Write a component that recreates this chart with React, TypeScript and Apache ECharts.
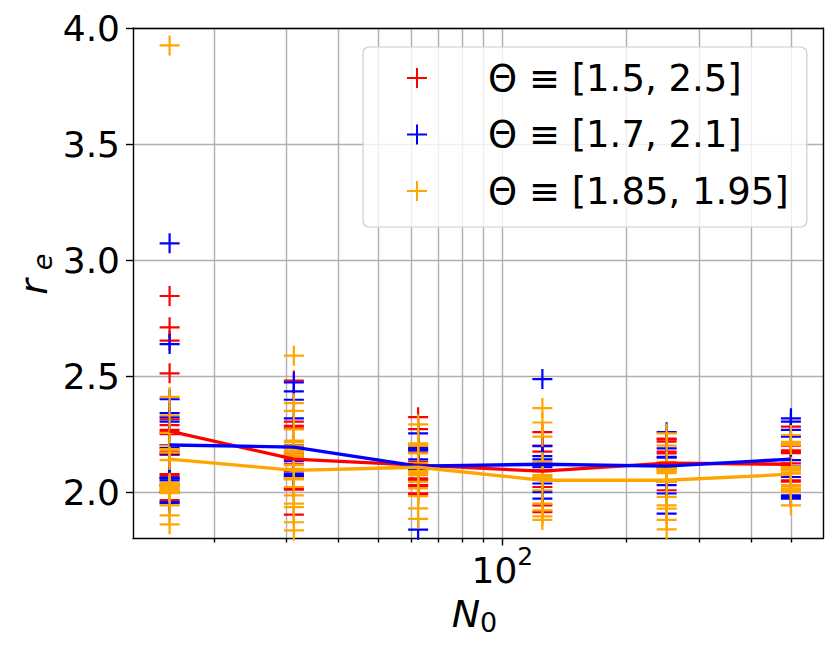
import React, { useEffect, useRef } from 'react';
import * as echarts from 'echarts';

const N0 = [15.625, 31.25, 62.5, 125, 250, 500];
const SERIES_NAMES = ['Θ ≡ [1.5, 2.5]', 'Θ ≡ [1.7, 2.1]', 'Θ ≡ [1.85, 1.95]'];
const COLORS = ['#ff0000', '#0000ff', '#ffa500'];

const redRuns = [
  [2.845, 2.71, 2.653, 2.512, 2.314, 2.289, 2.268, 2.258, 2.25, 2.175, 2.16, 2.077, 2.072, 2.06, 2.03, 2.0, 1.965],
  [2.481, 2.304, 2.285, 2.275, 2.2, 2.17, 2.15, 2.14, 2.12, 2.09, 2.06, 2.015, 2.01, 1.903],
  [2.323, 2.271, 2.2, 2.17, 2.13, 2.116, 2.1, 2.059, 2.052, 2.03, 2.025, 1.995, 1.99],
  [2.258, 2.2, 2.174, 2.12, 2.094, 2.09, 2.022, 1.943, 1.914],
  [2.23, 2.226, 2.217, 2.174, 2.167, 2.12, 2.1, 2.044, 2.008],
  [2.282, 2.2, 2.18, 2.175, 2.168, 2.124, 2.1, 2.051, 2.045],
];
const blueRuns = [
  [3.072, 2.638, 2.4, 2.34, 2.323, 2.304, 2.203, 2.19, 2.165, 2.064, 2.058, 2.05, 2.03, 2.0, 1.957, 1.952],
  [2.473, 2.434, 2.398, 2.318, 2.2, 2.19, 2.16, 2.133, 2.08, 2.075, 2.07, 2.065],
  [2.253, 2.19, 2.185, 2.18, 2.141, 2.12, 2.107, 2.1, 2.094, 1.838],
  [2.487, 2.198, 2.155, 2.141, 2.12, 2.115, 2.107, 2.037, 2.0, 1.972],
  [2.258, 2.188, 2.152, 2.148, 2.116, 2.11, 2.03, 1.994, 1.907],
  [2.318, 2.304, 2.268, 2.239, 2.138, 2.11, 2.065, 1.986, 1.979, 1.972],
];
const orangeRuns = [
  [3.925, 2.41, 2.33, 2.255, 2.2, 2.185, 2.17, 2.138, 2.04, 2.035, 2.03, 2.025, 2.02, 2.015, 2.01, 2.005, 2.0, 1.995, 1.943, 1.9, 1.861],
  [2.588, 2.383, 2.35, 2.27, 2.222, 2.215, 2.2, 2.19, 2.18, 2.17, 2.16, 2.15, 2.116, 2.1, 2.06, 2.055, 2.022, 1.986, 1.95, 1.935, 1.87, 1.835],
  [2.292, 2.21, 2.205, 2.2, 2.167, 2.125, 2.09, 2.086, 2.08, 2.073, 2.044, 2.016, 1.982, 1.93, 1.885],
  [2.362, 2.3, 2.239, 2.13, 2.125, 2.12, 2.073, 2.068, 2.06, 2.008, 1.95, 1.921, 1.895, 1.88],
  [2.253, 2.2, 2.13, 2.103, 2.098, 2.09, 2.086, 2.082, 2.044, 1.979, 1.943, 1.929, 1.88, 1.839],
  [2.246, 2.217, 2.21, 2.203, 2.109, 2.1, 2.095, 2.085, 2.08, 2.03, 2.025, 2.015, 2.008, 2.0, 1.943],
];
const redMean = [2.263, 2.142, 2.116, 2.09, 2.125, 2.12];
const blueMean = [2.203, 2.194, 2.112, 2.12, 2.112, 2.142];
const orangeMean = [2.142, 2.094, 2.107, 2.051, 2.051, 2.077];

const Y_TICKS = [2.0, 2.5, 3.0, 3.5, 4.0];
const X_MAJOR = [100];
const X_MINOR = [20, 30, 40, 50, 60, 70, 80, 90, 200, 300, 400, 500];
const X_MIN = 12.74;
const X_MAX = 598;
const Y_MIN = 1.8;
const Y_MAX = 4.0;

const FONT = 'DejaVu Sans';
const PLUS = 'path://M10,0 L10,20 M0,10 L20,10';
const GRID_LINE = { color: '#b0b0b0', width: 1.4 };
const SPINE = { color: '#000000', width: 1.4 };

export default function App() {
  const ref = useRef<HTMLDivElement>(null);
  useEffect(() => {
    document.body.style.margin = '0';
    const chart = echarts.init(ref.current as HTMLDivElement, null, { renderer: 'svg' });
    const runs = [redRuns, blueRuns, orangeRuns];
    const means = [redMean, blueMean, orangeMean];
    const series: any[] = [];
    runs.forEach((r, k) => {
      series.push({
        name: SERIES_NAMES[k],
        type: 'scatter',
        xAxisIndex: 0,
        yAxisIndex: 0,
        symbol: PLUS,
        symbolSize: 20,
        silent: true,
        itemStyle: { color: COLORS[k], borderColor: COLORS[k], borderWidth: 2.2, opacity: 1 },
        data: r.flatMap((col, i) => col.map((v) => [N0[i], v])),
      });
      series.push({
        name: SERIES_NAMES[k] + ' mean',
        type: 'line',
        xAxisIndex: 0,
        yAxisIndex: 0,
        symbol: 'none',
        showSymbol: false,
        silent: true,
        lineStyle: { color: COLORS[k], width: 3.3 },
        itemStyle: { color: COLORS[k] },
        data: N0.map((n, i) => [n, means[k][i]]),
      });
    });

    const hiddenAxisParts = {
      axisTick: { show: false },
      axisLabel: { show: false },
      splitLine: { show: false },
      minorTick: { show: false },
      minorSplitLine: { show: false },
    };

    chart.setOption({
      animation: false,
      grid: { left: 133, right: 7, top: 28, bottom: 109.5, containLabel: false, outerBoundsMode: 'none' },
      legend: {
        data: SERIES_NAMES,
        orient: 'vertical',
        left: 363,
        top: 47,
        itemWidth: 20,
        itemHeight: 20,
        itemGap: 16.5,
        icon: PLUS,
        padding: [11, 18, 16, 43],
        backgroundColor: 'rgba(255,255,255,0.8)',
        borderColor: '#cccccc',
        borderWidth: 1.2,
        borderRadius: 6,
        selectedMode: false,
        itemStyle: { borderWidth: 2 },
        textStyle: { fontFamily: FONT, fontSize: 37, color: '#000', padding: [0, 0, 0, 56], lineHeight: 40 },
      },
      xAxis: [
        {
          type: 'log',
          logBase: 10,
          min: X_MIN,
          max: X_MAX,
          position: 'bottom',
          axisLine: { show: true, onZero: false, lineStyle: SPINE },
          axisTick: { show: true, customValues: X_MAJOR, length: 7, lineStyle: SPINE },
          axisLabel: {
            show: true,
            customValues: X_MAJOR,
            margin: 5.5,
            formatter: (v: number) => '{b|10}{s|' + Math.round(Math.log10(v)) + '}',
            rich: {
              b: { fontFamily: FONT, fontSize: 36, color: '#000', lineHeight: 44, verticalAlign: 'bottom' },
              s: { fontFamily: FONT, fontSize: 25, color: '#000', lineHeight: 25, verticalAlign: 'top' },
            },
          },
          splitLine: { show: true, lineStyle: GRID_LINE },
          minorTick: { show: false },
          minorSplitLine: { show: false },
        },
        {
          type: 'log',
          logBase: 10,
          min: X_MIN,
          max: X_MAX,
          position: 'bottom',
          axisLine: { show: false },
          axisTick: { show: true, customValues: X_MINOR, length: 4, lineStyle: SPINE },
          axisLabel: { show: false },
          splitLine: { show: true, lineStyle: GRID_LINE },
          minorTick: { show: false },
          minorSplitLine: { show: false },
        },
        {
          type: 'log',
          logBase: 10,
          min: X_MIN,
          max: X_MAX,
          position: 'top',
          z: 10,
          axisLine: { show: true, onZero: false, lineStyle: SPINE },
          ...hiddenAxisParts,
        },
      ],
      yAxis: [
        {
          type: 'value',
          min: Y_MIN,
          max: Y_MAX,
          position: 'left',
          axisLine: { show: true, onZero: false, lineStyle: SPINE },
          axisTick: { show: true, customValues: Y_TICKS, length: 7, lineStyle: SPINE },
          axisLabel: {
            show: true,
            customValues: Y_TICKS,
            margin: 13,
            fontFamily: FONT,
            fontSize: 36,
            color: '#000',
            formatter: (v: number) => v.toFixed(1),
          },
          splitLine: { show: true, lineStyle: GRID_LINE },
        },
        {
          type: 'value',
          min: Y_MIN,
          max: Y_MAX,
          position: 'right',
          z: 10,
          axisLine: { show: true, onZero: false, lineStyle: SPINE },
          ...hiddenAxisParts,
        },
      ],
      graphic: [
        {
          type: 'text',
          x: 466,
          y: 614,
          silent: true,
          style: { text: 'N', font: 'italic 38px "DejaVu Sans"', fill: '#000', align: 'center', verticalAlign: 'middle', textAlign: 'center', textVerticalAlign: 'middle' },
        },
        {
          type: 'text',
          x: 488.5,
          y: 622.7,
          silent: true,
          style: { text: '0', font: '27px "DejaVu Sans"', fill: '#000', align: 'center', verticalAlign: 'middle', textAlign: 'center', textVerticalAlign: 'middle' },
        },
        {
          type: 'text',
          x: 34,
          y: 287,
          rotation: Math.PI / 2,
          silent: true,
          style: { text: 'r', font: 'italic 38px "DejaVu Sans"', fill: '#000', align: 'center', verticalAlign: 'middle', textAlign: 'center', textVerticalAlign: 'middle' },
        },
        {
          type: 'text',
          x: 42,
          y: 262,
          rotation: Math.PI / 2,
          silent: true,
          style: { text: 'e', font: 'italic 27px "DejaVu Sans"', fill: '#000', align: 'center', verticalAlign: 'middle', textAlign: 'center', textVerticalAlign: 'middle' },
        },
      ],
      series,
    });
    return () => chart.dispose();
  }, []);
  return <div ref={ref} style={{ width: 830, height: 648 }} />;
}
